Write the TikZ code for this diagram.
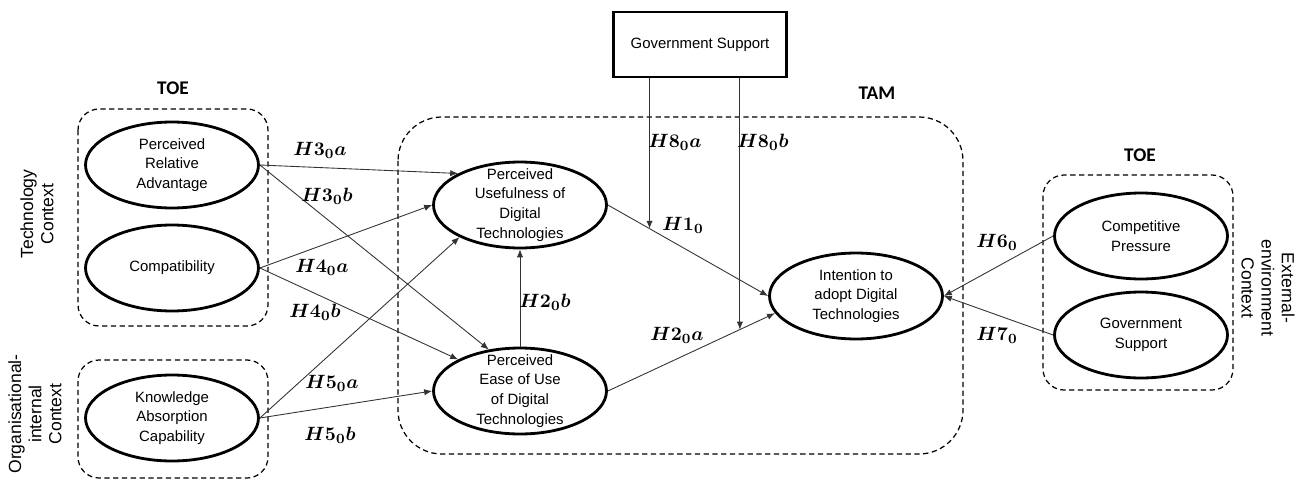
\documentclass[tikz,border=0pt]{standalone}
\usepackage[no-math]{fontspec}
\usepackage{xcolor}
\usepackage{tikz}
\usetikzlibrary{shapes.geometric,arrows.meta,calc}
\newfontfamily\arialfont{Liberation Sans}
\newfontfamily\calibrifont{Carlito}
\newcommand{\hyp}[2]{{\boldmath$H#1_0#2$}}

\begin{document}
\begin{tikzpicture}[x=0.02cm,y=-0.02cm,
    oval/.style={ellipse,draw=black,line width=1.6pt,minimum width=3.46cm,minimum height=1.72cm,inner sep=0pt},
    txt/.style={font=\arialfont\fontsize{8.5}{11.3}\selectfont,align=center},
    side/.style={font=\arialfont\fontsize{10}{11.5}\selectfont,align=center},
    grp/.style={draw=black,line width=0.7pt,dash pattern=on 3pt off 2pt,rounded corners=12pt},
    hyplbl/.style={font=\fontsize{11}{13}\selectfont},
    model/.style={font=\calibrifont\bfseries\fontsize{11}{13}\selectfont},
    link/.style={draw=black!80,line width=0.5pt,-{Latex[length=4.5pt,width=3.6pt]}}]
    \useasboundingbox (0,0) rectangle (1308,480);

    \draw[grp] (78,109) rectangle (268,326);
    \draw[grp] (78,360) rectangle (268,478);
    \draw[grp,rounded corners=25pt] (398,117) rectangle (963,454);
    \draw[grp] (1043,175) rectangle (1233,390);

    \node[model] (toeleft) at (173,88) {TOE};
    \node[model] (tam) at (877,93) {TAM};
    \node[model] (toeright) at (1140,155) {TOE};

    \node[side,rotate=90] (techctx) at (37,214) {Technology\\Context};
    \node[side,rotate=90] (orgctx) at (35,414) {Organisational-\\internal\\Context};
    \node[side,rotate=-90] (extctx) at (1268,288) {External-\\environment\\Context};

    \node[oval,label={[txt]center:Perceived\\Relative\\Advantage}] (pra) at (172,165) {};
    \node[oval,label={[txt]center:Compatibility}] (comp) at (172,268) {};
    \node[oval,label={[txt]center:Knowledge\\Absorption\\Capability}] (kac) at (172,418) {};
    \node[oval,label={[txt]center:Perceived\\Usefulness of\\Digital\\Technologies}] (pu) at (520,205) {};
    \node[oval,label={[txt]center:Perceived\\Ease of Use\\of Digital\\Technologies}] (peou) at (520,391) {};
    \node[oval,label={[txt]center:Intention to\\adopt Digital\\Technologies}] (int) at (856,296) {};
    \node[oval,label={[txt]center:Competitive\\Pressure}] (cp) at (1141,236) {};
    \node[oval,label={[txt]center:Government\\Support}] (gs) at (1141,335) {};
    \node[txt,draw=black,line width=1.6pt,minimum width=3.46cm,minimum height=1.3cm] (gsbox) at (700,44.5) {Government Support};

    \draw[link] (pra.east) -- (pu.153);
    \draw[link] (pra.east) -- (peou.127);
    \draw[link] (comp.east) -- (pu.west);
    \draw[link] (comp.east) -- (peou.153);
    \draw[link] (kac.east) -- (pu.208);
    \draw[link] (kac.east) -- (peou.west);
    \draw[link] (peou.north) -- (pu.south);
    \draw[link] (pu.east) -- (int.west);
    \draw[link] (peou.east) -- (int.192);
    \draw[link] (cp.west) -- (int.east);
    \draw[link] (gs.west) -- (int.east);
    \coordinate (moda) at ($(pu.east)!0.26!(int.west)$);
    \coordinate (modb) at ($(peou.east)!0.79!(int.192)$);
    \draw[link] (gsbox.south -| moda) -- (moda);
    \draw[link] (gsbox.south -| modb) -- (modb);

    \node[hyplbl] (h3a) at (320,150) {\hyp{3}{a}};
    \node[hyplbl] (h3b) at (327,196) {\hyp{3}{b}};
    \node[hyplbl] (h4a) at (322,267) {\hyp{4}{a}};
    \node[hyplbl] (h4b) at (315,312) {\hyp{4}{b}};
    \node[hyplbl] (h5a) at (332,383) {\hyp{5}{a}};
    \node[hyplbl] (h5b) at (330,435) {\hyp{5}{b}};
    \node[hyplbl] (h2b) at (545,302) {\hyp{2}{b}};
    \node[hyplbl] (h8a) at (675,142) {\hyp{8}{a}};
    \node[hyplbl] (h8b) at (763,142) {\hyp{8}{b}};
    \node[hyplbl] (h1) at (683,225) {\hyp{1}{}};
    \node[hyplbl] (h2a) at (677,335) {\hyp{2}{a}};
    \node[hyplbl] (h6) at (997,242) {\hyp{6}{}};
    \node[hyplbl] (h7) at (997,335) {\hyp{7}{}};
\end{tikzpicture}
\end{document}
